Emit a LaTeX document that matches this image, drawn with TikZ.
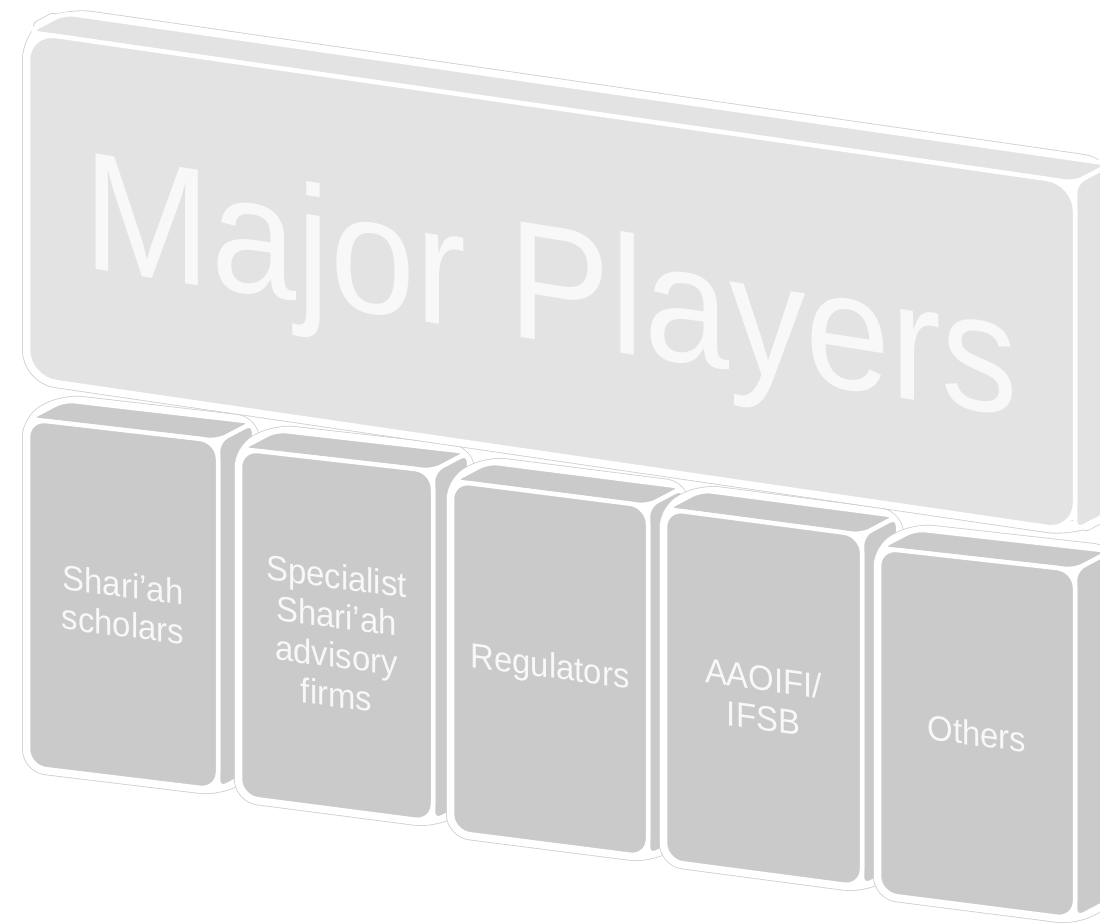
\documentclass[tikz,border=0pt]{standalone}
\usepackage{fontspec}
\setmainfont{Liberation Sans}
\usetikzlibrary{calc}

\definecolor{bigface}{HTML}{E3E3E3}
\definecolor{smallface}{HTML}{CACACA}
\definecolor{labeltext}{HTML}{F8F8F8}
\definecolor{haze}{HTML}{CFCFCF}

% depth of every block (towards the back, up and to the right)
\def\dx{36}
\def\dy{-19}

\tikzset{
  halo/.style={draw=haze, line width=12pt, line join=round},
  haloline/.style={draw=white, line width=10.4pt, line join=round},
  face/.style={draw=white, line width=4.5pt, line join=round},
  smalllabel/.style={text=labeltext, font=\fontsize{35}{39.5}\selectfont,
    align=center, inner sep=0pt, xscale=0.94},
  biglabel/.style={text=labeltext, font=\fontsize{168}{180}\selectfont,
    inner sep=0pt, xscale=0.91},
}

% a slanted block: front face given by the corners <name>-tl, -tr, -br, -bl
\newcommand\drawcuboid[3]{%
  \coordinate (#1-TLb) at ($(#1-tl)+(\dx,\dy)$);
  \coordinate (#1-TRb) at ($(#1-tr)+(\dx,\dy)$);
  \coordinate (#1-BRb) at ($(#1-br)+(\dx,\dy)$);
  \path[halo, rounded corners=#3] (#1-tl) -- (#1-TLb) -- (#1-TRb) -- (#1-BRb)
    -- (#1-br) -- (#1-bl) -- cycle;
  \path[haloline, rounded corners=#3] (#1-tl) -- (#1-TLb) -- (#1-TRb) -- (#1-BRb)
    -- (#1-br) -- (#1-bl) -- cycle;
  \filldraw[face, fill=#2, rounded corners=10pt] (#1-tl) -- (#1-TLb) -- (#1-TRb)
    -- (#1-tr) -- cycle;
  \filldraw[face, fill=#2, rounded corners=10pt] (#1-tr) -- (#1-TRb) -- (#1-BRb)
    -- (#1-br) -- cycle;
  \filldraw[face, fill=#2, rounded corners=#3] (#1-tl) -- (#1-tr) -- (#1-br)
    -- (#1-bl) -- cycle;
}

\begin{document}
\begin{tikzpicture}[x=1pt,y=-1pt]
\useasboundingbox (0,0) rectangle (1100,923);
\clip (0,0) rectangle (1100,923);
\fill[white] (0,0) rectangle (1100,923);

% front faces of the five lower blocks
\coordinate (b1-tl) at (28,419);  \coordinate (b1-tr) at (218,441);
\coordinate (b1-br) at (218,790); \coordinate (b1-bl) at (28,767);
\coordinate (b2-tl) at (240,449); \coordinate (b2-tr) at (433,471);
\coordinate (b2-br) at (433,822); \coordinate (b2-bl) at (240,797);
\coordinate (b3-tl) at (452,481); \coordinate (b3-tr) at (648,506);
\coordinate (b3-br) at (648,857); \coordinate (b3-bl) at (452,832);
\coordinate (b4-tl) at (665,509); \coordinate (b4-tr) at (862,535);
\coordinate (b4-br) at (862,887); \coordinate (b4-bl) at (665,861);
\coordinate (b5-tl) at (879,548); \coordinate (b5-tr) at (1075,570);
\coordinate (b5-br) at (1075,919); \coordinate (b5-bl) at (879,894);
% front face of the title block
\coordinate (big-tl) at (28,32);    \coordinate (big-tr) at (1075,183);
\coordinate (big-br) at (1075,531); \coordinate (big-bl) at (28,378);

\drawcuboid{b1}{smallface}{18pt}
\drawcuboid{b2}{smallface}{18pt}
\drawcuboid{b3}{smallface}{18pt}
\drawcuboid{b4}{smallface}{18pt}
\drawcuboid{b5}{smallface}{18pt}
\drawcuboid{big}{bigface}{28pt}

\node[smalllabel, yslant=-0.12] (t1) at ($(b1-tl)!0.5!(b1-br)$) {Shari’ah\\scholars};
\node[smalllabel, yslant=-0.12] (t2) at ($(b2-tl)!0.5!(b2-br)$) {Specialist\\Shari’ah\\advisory\\firms};
\node[smalllabel, yslant=-0.128] (t3) at ($(b3-tl)!0.5!(b3-br)$) {Regulators};
\node[smalllabel, yslant=-0.132] (t4) at ($(b4-tl)!0.5!(b4-br)$) {AAOIFI/\\IFSB};
\node[smalllabel, yslant=-0.12] (t5) at ($(b5-tl)!0.5!(b5-br)$) {Others};

\node[biglabel, yslant=-0.145, anchor=base] (title) at (551,342) {Major Players};
\end{tikzpicture}
\end{document}
